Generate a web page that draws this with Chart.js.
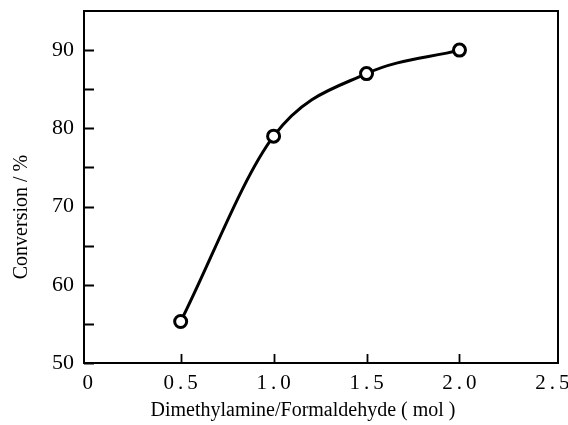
<!DOCTYPE html>
<html><head><meta charset="utf-8">
<script src="https://cdn.jsdelivr.net/npm/chart.js@4/dist/chart.umd.min.js"></script>
<style>html,body{margin:0;padding:0;background:#fff}#wrap{width:568px;height:425px}</style>
</head><body><div id="wrap"><canvas id="c" width="568" height="425"></canvas></div>
<script>
const ratio = [0.5, 1.0, 1.5, 2.0];
const conversion = [55.3, 79.0, 87.0, 90.0];
const xTicks = [0, 0.5, 1.0, 1.5, 2.0, 2.5];
const xTickLabels = ["0", "0.5", "1.0", "1.5", "2.0", "2.5"];
const yTicks = [50, 55, 60, 65, 70, 75, 80, 85, 90];
const yTickLabels = { 50: "50", 60: "60", 70: "70", 80: "80", 90: "90" };
const xTitle = "Dimethylamine/Formaldehyde ( mol )";
const yTitle = "Conversion / %";

const frame = {
  id: 'frame',
  beforeDraw(chart) {
    const xs = chart.scales.x;
    if (!xs._spaced) {
      const orig = xs.drawLabels.bind(xs);
      xs.drawLabels = (ca) => { const c = chart.ctx; c.save(); c.letterSpacing = '4px'; c.translate(2, 0); orig(ca); c.restore(); };
      xs._spaced = true;
    }
  },
  afterDraw(chart) {
    const { ctx, chartArea: a, scales: { x, y } } = chart;
    ctx.save();
    ctx.strokeStyle = '#000';
    ctx.lineWidth = 2;
    ctx.strokeRect(a.left, a.top, a.right - a.left, a.bottom - a.top);
    ctx.beginPath();
    yTicks.forEach(v => { const p = Math.round(y.getPixelForValue(v)) + 0.5; ctx.moveTo(a.left, p); ctx.lineTo(a.left + 10, p); });
    xTicks.slice(1, -1).forEach(v => { const p = Math.round(x.getPixelForValue(v)) + 0.5; ctx.moveTo(p, a.bottom); ctx.lineTo(p, a.bottom - 9); });
    ctx.lineWidth = 1.8;
    ctx.stroke();
    // axis titles
    ctx.fillStyle = '#000';
    ctx.textAlign = 'center';
    ctx.textBaseline = 'middle';
    ctx.font = '20px "Liberation Serif"';
    ctx.fillText(xTitle, a.left + 219, a.bottom + 48);
    ctx.translate(22, a.bottom - 146);
    ctx.rotate(-Math.PI / 2);
    ctx.font = '20px "Liberation Serif"';
    ctx.fillText(yTitle, 0, 0);
    ctx.restore();
  }
};

new Chart(document.getElementById('c'), {
  type: 'line',
  data: { datasets: [{
    data: ratio.map((r, i) => ({ x: r, y: conversion[i] })),
    borderColor: '#000', borderWidth: 3,
    pointRadius: 6, pointBorderWidth: 3, pointBackgroundColor: '#fff', pointBorderColor: '#000',
    cubicInterpolationMode: 'monotone', fill: false
  }]},
  options: {
    responsive: false, animation: false,
    layout: { padding: { top: 11, right: 10, left: 0, bottom: 0 } },
    plugins: { legend: { display: false }, tooltip: { enabled: false } },
    scales: {
      x: {
        type: 'linear', min: -0.02, max: 2.53,
        afterBuildTicks: s => { s.ticks = xTicks.map(v => ({ value: v })); },
        afterFit: s => { s.height = 62; s.paddingLeft = 0; s.paddingRight = 0; },
        grid: { display: false, drawTicks: false },
        border: { display: false },
        ticks: { color: '#000', padding: 8, font: { family: 'Liberation Serif', size: 21 },
          maxRotation: 0, autoSkip: false,
          callback: (v, i) => xTickLabels[i] },
        title: { display: false, text: xTitle }
      },
      y: {
        min: 50, max: 95,
        afterBuildTicks: s => { s.ticks = yTicks.map(v => ({ value: v })); },
        afterFit: s => { s.width = 84; s.paddingTop = 0; s.paddingBottom = 0; },
        grid: { display: false, drawTicks: false },
        border: { display: false },
        ticks: { color: '#000', padding: 10, font: { family: 'Liberation Serif', size: 22 },
          callback: v => yTickLabels[v] || '' },
        title: { display: false, text: yTitle }
      }
    }
  },
  plugins: [frame]
});
</script></body></html>
